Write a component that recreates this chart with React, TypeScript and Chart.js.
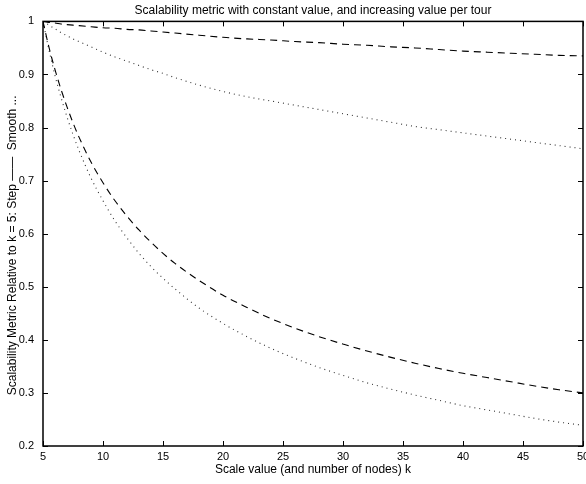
import React, { useEffect, useRef } from "react";
import { Chart, registerables } from "chart.js";

Chart.register(...registerables);

const chartTitle = "Scalability metric with constant value, and increasing value per tour";
const xTitle = "Scale value (and number of nodes) k";
const yTitle = "Scalability Metric Relative to k = 5: Step \u2014\u2014  Smooth ...       ";

const kValues = [5, 5.5, 6, 6.5, 7, 7.5, 8, 9, 10, 11, 12, 13, 14, 15, 16, 18, 20, 22, 24, 26, 28, 30, 32, 34, 36, 38, 40, 42, 44, 46, 48, 50];

// constant value per tour: step (dashed) and smooth (dotted)
const constStep = [1.0, 0.998, 0.997, 0.995, 0.994, 0.993, 0.992, 0.990, 0.988, 0.987, 0.985, 0.984, 0.982, 0.980, 0.978, 0.974, 0.970, 0.967, 0.965, 0.962, 0.960, 0.957, 0.955, 0.952, 0.950, 0.947, 0.944, 0.942, 0.940, 0.938, 0.936, 0.935];
const constSmooth = [1.0, 0.993, 0.986, 0.979, 0.973, 0.967, 0.962, 0.952, 0.942, 0.933, 0.925, 0.917, 0.909, 0.902, 0.894, 0.880, 0.868, 0.858, 0.850, 0.842, 0.834, 0.826, 0.818, 0.810, 0.802, 0.796, 0.790, 0.784, 0.778, 0.772, 0.766, 0.760];

// increasing value per tour: step (dashed) and smooth (dotted)
const incStep = [1.0, 0.951, 0.909, 0.872, 0.839, 0.809, 0.782, 0.735, 0.696, 0.662, 0.633, 0.607, 0.584, 0.563, 0.544, 0.512, 0.484, 0.461, 0.440, 0.422, 0.406, 0.392, 0.379, 0.367, 0.356, 0.346, 0.337, 0.329, 0.321, 0.313, 0.306, 0.300];
const incSmooth = [1.0, 0.946, 0.898, 0.857, 0.820, 0.787, 0.757, 0.705, 0.662, 0.624, 0.592, 0.563, 0.538, 0.516, 0.496, 0.460, 0.431, 0.406, 0.384, 0.365, 0.348, 0.333, 0.319, 0.307, 0.296, 0.286, 0.276, 0.268, 0.260, 0.252, 0.245, 0.239];

const FONT = "'Liberation Sans', Arial, Helvetica, sans-serif";

const toPoints = (ys: number[]) => kValues.map((k, i) => ({ x: k, y: ys[i] }));

const boxPlugin = {
  id: "matlabBox",
  afterDatasetsDraw(chart: any) {
    const { ctx, chartArea, scales } = chart;
    const { left, right, top, bottom } = chartArea;
    const x = scales.x;
    const y = scales.y;
    const tl = 5;
    ctx.save();
    ctx.strokeStyle = "#000";
    ctx.lineWidth = 1;
    ctx.beginPath();
    x.ticks.forEach((t: any) => {
      const px = Math.round(x.getPixelForValue(t.value)) + 0.5;
      ctx.moveTo(px, bottom);
      ctx.lineTo(px, bottom - tl);
      ctx.moveTo(px, top);
      ctx.lineTo(px, top + tl);
    });
    y.ticks.forEach((t: any) => {
      const py = Math.round(y.getPixelForValue(t.value)) + 0.5;
      ctx.moveTo(left, py);
      ctx.lineTo(left + tl, py);
      ctx.moveTo(right, py);
      ctx.lineTo(right - tl, py);
    });
    ctx.stroke();
    ctx.lineWidth = 1.5;
    ctx.strokeRect(left, top, right - left, bottom - top);
    ctx.restore();
  },
};

export default function App() {
  const ref = useRef<HTMLCanvasElement | null>(null);

  useEffect(() => {
    if (!ref.current) return;
    Chart.defaults.font.family = FONT;
    Chart.defaults.color = "#000";
    const common = {
      pointRadius: 0,
      borderWidth: 1.1,
      fill: false,
      cubicInterpolationMode: "monotone" as const,
    };
    const chart = new Chart(ref.current, {
      type: "line",
      data: {
        datasets: [
          { ...common, label: "constant step", data: toPoints(constStep), borderColor: "#000", borderDash: [7, 5] },
          { ...common, label: "constant smooth", data: toPoints(constSmooth), borderColor: "#333", borderDash: [1, 4] },
          { ...common, label: "increasing step", data: toPoints(incStep), borderColor: "#000", borderDash: [7, 5] },
          { ...common, label: "increasing smooth", data: toPoints(incSmooth), borderColor: "#333", borderDash: [1, 4] },
        ],
      },
      options: {
        animation: false,
        responsive: false,
        devicePixelRatio: 1,
        layout: { padding: { top: 2, right: 3, left: 0, bottom: 0 } },
        plugins: {
          legend: { display: false },
          tooltip: { enabled: false },
          title: {
            display: true,
            fullSize: false,
            text: chartTitle,
            color: "#000",
            font: { size: 12, weight: "normal", family: FONT },
            padding: { top: 1, bottom: 4 },
          },
        },
        scales: {
          x: {
            type: "linear",
            min: 5,
            max: 50,
            grid: { display: false, drawTicks: false },
            border: { display: false },
            ticks: { stepSize: 5, padding: 4, font: { size: 11 }, color: "#000", maxRotation: 0 },
            title: { display: true, text: xTitle, font: { size: 12 }, color: "#000", padding: { top: 0, bottom: 7 } },
            afterFit(scale: any) {
              scale.height = 38;
              scale.paddingLeft = 0;
              scale.paddingRight = 0;
            },
          },
          y: {
            type: "linear",
            min: 0.2,
            max: 1,
            grid: { display: false, drawTicks: false },
            border: { display: false },
            ticks: {
              stepSize: 0.1,
              padding: 9,
              font: { size: 11 },
              color: "#000",
              callback: (v: any) => String(Number(Number(v).toFixed(1))),
            },
            title: { display: true, text: yTitle, font: { size: 12 }, color: "#000", padding: { top: 5, bottom: 0 } },
            afterFit(scale: any) {
              scale.width = 43;
              scale.paddingTop = 0;
              scale.paddingBottom = 0;
            },
          },
        },
      },
      plugins: [boxPlugin],
    });
    return () => chart.destroy();
  }, []);

  return (
    <div style={{ position: "absolute", left: 0, top: 0, width: 586, height: 484, background: "#fff" }}>
      <canvas ref={ref} width={586} height={484} style={{ width: 586, height: 484 }} />
    </div>
  );
}
